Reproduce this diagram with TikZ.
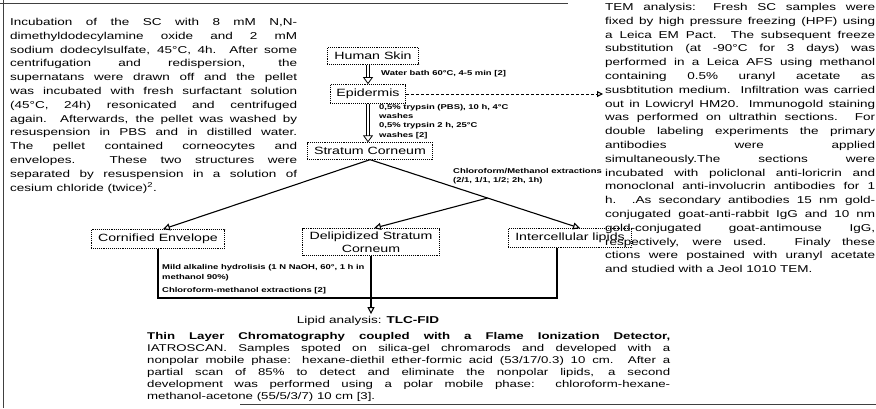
\documentclass[tikz,border=0pt]{standalone}
\usepackage{fontspec}
\setmainfont{Liberation Sans}[FakeStretch=1.35]
\usetikzlibrary{arrows.meta,calc}
\tolerance=10000
\hbadness=10000
\hyphenpenalty=10000

\begin{document}
\begin{tikzpicture}[x=1pt, y=-1pt,
		box/.style={draw, densely dotted, line width=0.9pt, inner xsep=7pt, inner ysep=4.5pt, font=\fontsize{10.5}{13}\selectfont},
		note/.style={inner sep=0pt, anchor=north west, align=left, font=\fontsize{7}{9.3}\selectfont\bfseries},
		para/.style={inner sep=0pt, anchor=north west, align=justify, font=\fontsize{10}{13.8}\selectfont},
		flow/.style={line width=1.1pt, -{Triangle[open, length=7pt, width=7pt]}},
		twin/.style={double, double distance=2pt, line width=0.8pt, -{Triangle[open, length=7pt, width=10pt]}},
		frame/.style={line width=0.6pt, black!75}]
	
	\useasboundingbox (0,0) rectangle (876,408);
	
	% Define coordinates
	\coordinate (HS) at (373,56);
	\coordinate (E) at (368,94);
	\coordinate (SC) at (370,151);
	\coordinate (CE) at (158,239);
	\coordinate (D) at (371,242);
	\coordinate (IL) at (570,238);
	\coordinate (bot) at (0,298);
	
	% Scan frame
	\draw[frame] (0,3) -- (568,3);
	\draw[frame] (3,0) -- (3,408);
	\draw[frame] (240,404) -- (876,404);
	
	% Boxes
	\node[box] (hs) at (HS) {Human Skin};
	\node[box, inner xsep=6pt] (epi) at (E) {Epidermis};
	\node[box] (sc) at (SC) {Stratum Corneum};
	\node[box] (ce) at (CE) {Cornified Envelope};
	\node[box, align=center, inner ysep=3pt] (dsc) at (D) {Delipidized Stratum\\Corneum};
	\node[box] (il) at (IL) {Intercellular lipids};
	\node[inner sep=2pt, font=\fontsize{10}{12}\selectfont] (lipid) at (368,321) {Lipid analysis: \textbf{TLC-FID}};
	
	% Text blocks
	\node[para, text width=287pt] (sep) at (10,18) {Incubation of the SC with 8 mM N,N-\linebreak dimethyldodecylamine oxide and 2 mM\linebreak sodium dodecylsulfate, 45°C, 4h. After some\linebreak centrifugation and redispersion, the\linebreak supernatans were drawn off and the pellet\linebreak was incubated with fresh surfactant solution\linebreak (45°C, 24h) resonicated and centrifuged\linebreak again. Afterwards, the pellet was washed by\linebreak resuspension in PBS and in distilled water.\linebreak The pellet contained corneocytes and\linebreak envelopes. These two structures were\linebreak separated by resuspension in a solution of\linebreak cesium chloride (twice)\textsuperscript{2}.};
	\node[para, text width=270pt] (tem) at (605,3) {TEM analysis: Fresh SC samples were\linebreak fixed by high pressure freezing (HPF) using\linebreak a Leica EM Pact. The subsequent freeze\linebreak substitution (at -90°C for 3 days) was\linebreak performed in a Leica AFS using methanol\linebreak containing 0.5\% uranyl acetate as\linebreak susbtitution medium. Infiltration was carried\linebreak out in Lowicryl HM20. Immunogold staining\linebreak was performed on ultrathin sections. For\linebreak double labeling experiments the primary\linebreak antibodies were applied\linebreak simultaneously.The sections were\linebreak incubated with policlonal anti-loricrin and\linebreak monoclonal anti-involucrin antibodies for 1\linebreak h. .As secondary antibodies 15 nm gold-\linebreak conjugated goat-anti-rabbit IgG and 10 nm\linebreak gold-conjugated goat-antimouse IgG,\linebreak respectively, were used. Finaly these\linebreak ctions were postained with uranyl acetate\linebreak and studied with a Jeol 1010 TEM.};
	\node[para, text width=523pt, font=\fontsize{9.8}{12}\selectfont] (tlc) at (147,332) {\textbf{Thin Layer Chromatography coupled with a Flame Ionization Detector,}\linebreak IATROSCAN. Samples spoted on silica-gel chromarods and developed with a\linebreak nonpolar mobile phase: hexane-diethil ether-formic acid (53/17/0.3) 10 cm. After a\linebreak partial scan of 85\% to detect and eliminate the nonpolar lipids, a second\linebreak development was performed using a polar mobile phase: chloroform-hexane-\linebreak methanol-acetone (55/5/3/7) 10 cm [3].};
	
	% Step labels
	\node[note] (wb) at (381,70) {Water bath 60°C, 4-5 min [2]};
	\node[note] (tryp) at (379,104) {0,5\% trypsin (PBS), 10 h, 4°C\\washes\\0,5\% trypsin 2 h, 25°C\\washes [2]};
	\node[note] (chm) at (453,168) {Chloroform/Methanol extractions\\(2/1, 1/1, 1/2; 2h, 1h)};
	\node[note, font=\fontsize{7}{10}\selectfont\bfseries] (mild) at (162,264) {Mild alkaline hydrolisis (1 N NaOH, 60°, 1 h in\\methanol 90\%)\\[3pt]Chloroform-methanol extractions [2]};
	
	% Arrows
	\draw[twin] (epi.north |- hs.south) -- (epi.north);
	\draw[twin] (epi.south) -- (epi.south |- sc.north);
	\draw[densely dashed, line width=1pt, -{Triangle[open, length=6pt, width=6pt]}, shorten >=2pt] (epi.east) -- (epi.east -| tem.west);
	\coordinate (ilTip) at ([xshift=10pt]il.north);
	\coordinate (fork) at ($(sc.south)!0.56!(ilTip)$);
	\draw[flow] (sc.south) -- ([xshift=5pt]ce.north);
	\draw[flow] (sc.south) -- (ilTip);
	\draw[flow] (fork) -- ([xshift=3pt]dsc.north);
	\draw[line width=1.1pt] (ce.south) -- (ce.south |- bot) -| ([xshift=-13pt]il.south);
	\draw[flow] (dsc.south) -- (dsc.south |- lipid.north);
\end{tikzpicture}
\end{document}
